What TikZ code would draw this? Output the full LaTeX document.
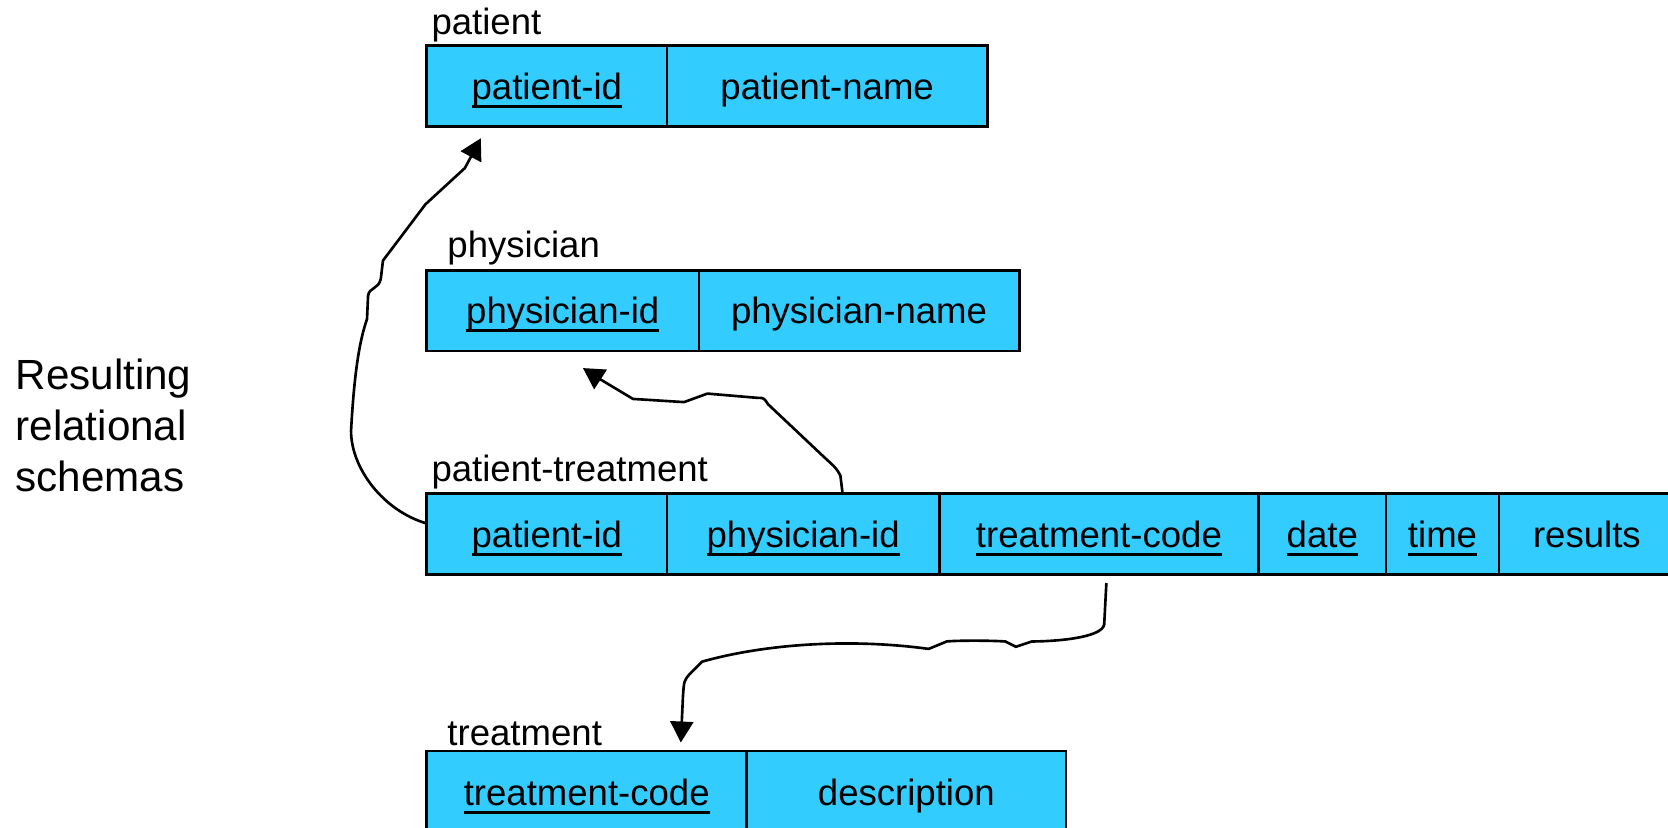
\documentclass[tikz,border=0pt]{standalone}
\usepackage{fontspec}
\setmainfont{Liberation Sans}
\usepackage{xcolor}
\usetikzlibrary{arrows.meta,positioning}
\definecolor{schemablue}{HTML}{33CCFF}
% key attribute: thick underline
\newcommand{\pkey}[1]{{\setbox0\hbox{#1}\rlap{\rule[-0.23em]{\wd0}{0.08em}}\box0}}

\tikzset{
  cell/.style={draw=black, fill=schemablue, line width=0.75pt, rectangle,
    minimum height=0.809cm, inner sep=0pt, outer sep=0pt, anchor=north west,
    text height=0.75em, text depth=0pt, font=\fontsize{10.4}{12.5}\selectfont},
  tallcell/.style={cell, minimum height=1.064cm, text height=0.543cm, text depth=0.521cm},
  tname/.style={anchor=south west, inner sep=0pt, font=\fontsize{10.4}{12.5}\selectfont},
  fk/.style={line width=0.75pt, -{Triangle[length=0.21cm,width=0.23cm]}},
}

\begin{document}
\begin{tikzpicture}[x=0.010638cm, y=-0.010638cm]
  \useasboundingbox (0,0) rectangle (1568,778);

  %% caption
  \node[anchor=west, align=left, inner sep=0pt, font=\fontsize{12}{14.4}\selectfont] (caption) at (14,400)
    {Resulting\\relational\\schemas};

  %% patient
  \node[tname] (patient) at (405,40) {patient};
  \node[cell, minimum width=2.404cm] (ppid) at (401,43) {\pkey{patient-id}};
  \node[cell, minimum width=3.202cm] (pname) at (627,43) {patient-name};

  %% physician
  \node[tname] (physician) at (420,250) {physician};
  \node[cell, minimum width=2.723cm] (hpid) at (401,254) {\pkey{physician-id}};
  \node[cell, minimum width=3.202cm] (hname) at (657,254) {physician-name};

  %% patient-treatment
  \node[tname] (ptreat) at (405,460) {patient-treatment};
  \node[cell, minimum width=2.404cm] (tpid) at (401,464) {\pkey{patient-id}};
  \node[cell, minimum width=2.723cm] (thid) at (627,464) {\pkey{physician-id}};
  \node[cell, minimum width=3.191cm] (tcode) at (883,464) {\pkey{treatment-code}};
  \node[cell, minimum width=1.277cm] (tdate) at (1183,464) {\pkey{date}};
  \node[cell, minimum width=1.128cm] (ttime) at (1303,464) {\pkey{time}};
  \node[cell, minimum width=1.76cm] (tres) at (1409,464) {results};

  %% treatment
  \node[tname] (treatment) at (420,702) {treatment};
  \node[tallcell, minimum width=3.202cm] (rcode) at (401,706) {\pkey{treatment-code}};
  \node[tallcell, minimum width=3.191cm] (rdesc) at (702,706) {description};

  %% arrow ends
  \coordinate (ptip) at (452,130);
  \coordinate (htip) at (548,346);
  \coordinate (rtip) at (640,698);

  %% foreign keys
  \draw[fk] ([yshift=0.106cm]tpid.west) .. controls (360,480) and (330,440) .. (330,405)
    .. controls (333,350) and (338,320) .. (345,300) -- (346,278)
    .. controls (347,270) and (356,272) .. (358,262) -- (360,245) -- (400,192) -- (437,158) -- (ptip);
  \draw[fk] ([xshift=0.394cm]thid.north) -- (790,447) .. controls (786,440) .. (775,430) -- (722,380)
    .. controls (718,374) .. (712,374) -- (665,370) -- (643,378) -- (595,375) -- (565,357) -- (htip);
  \draw[fk] ([xshift=-1.521cm,yshift=-0.085cm]tcode.south east) -- (1038,587)
    .. controls (1036,600) and (990,603) .. (970,603) -- (955,608) -- (945,603)
    .. controls (930,602) and (900,602) .. (890,603) -- (873,610)
    .. controls (800,600) and (720,605) .. (660,622) -- (648,634)
    .. controls (643,640) .. (642,655) -- (rtip);
\end{tikzpicture}
\end{document}
